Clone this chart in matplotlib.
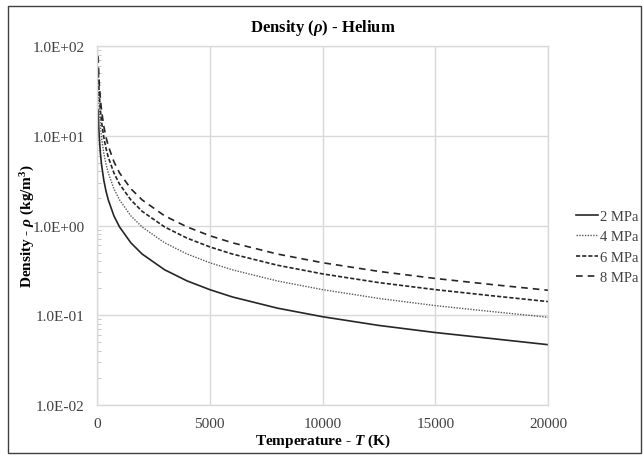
import matplotlib
matplotlib.use('Agg')
import matplotlib.pyplot as plt
import matplotlib.ticker as ticker
from matplotlib.patches import Rectangle

# Helium density (kg/m3) vs temperature (K)
temperature = [50, 75, 100, 150, 200, 300, 400, 500, 750, 1000, 1500, 2000,
               3000, 4000, 5000, 6000, 8000, 10000, 12500, 15000, 17500, 20000]
rho_2mpa = [19.3, 12.8, 9.63, 6.42, 4.81, 3.21, 2.41, 1.93, 1.28, 0.963, 0.642, 0.481,
            0.321, 0.241, 0.193, 0.160, 0.120, 0.0963, 0.0770, 0.0642, 0.0550, 0.0470]
rho_4mpa = [38.5, 25.7, 19.3, 12.8, 9.63, 6.42, 4.81, 3.85, 2.57, 1.93, 1.28, 0.963,
            0.642, 0.481, 0.385, 0.321, 0.241, 0.193, 0.154, 0.128, 0.110, 0.0950]
rho_6mpa = [57.8, 38.5, 28.9, 19.3, 14.4, 9.63, 7.22, 5.78, 3.85, 2.89, 1.93, 1.44,
            0.963, 0.722, 0.578, 0.481, 0.361, 0.289, 0.231, 0.193, 0.165, 0.142]
rho_8mpa = [77.0, 51.4, 38.5, 25.7, 19.3, 12.8, 9.63, 7.70, 5.14, 3.85, 2.57, 1.93,
            1.28, 0.963, 0.770, 0.642, 0.481, 0.385, 0.308, 0.257, 0.220, 0.190]
labels = ['2 MPa', '4 MPa', '6 MPa', '8 MPa']

plt.rcParams['font.family'] = ['Liberation Serif', 'DejaVu Serif']
plt.rcParams['mathtext.fontset'] = 'custom'
plt.rcParams['mathtext.rm'] = 'Liberation Serif:bold'
plt.rcParams['mathtext.it'] = 'Liberation Serif:italic:bold'
plt.rcParams['mathtext.bf'] = 'Liberation Serif:bold'

fig = plt.figure(figsize=(6.44, 4.60), dpi=100)
ax = fig.add_axes([97/644, 1 - 406/460, 451/644, 359/460])

# series styles
ax.plot(temperature, rho_2mpa, color='#262626', lw=1.2, linestyle='-', label=labels[0])
ax.plot(temperature, rho_4mpa, color='#595959', lw=1.0, linestyle=(0, (1, 1)), label=labels[1])
ax.plot(temperature, rho_6mpa, color='#262626', lw=1.2, linestyle=(0, (2.5, 1.2)), label=labels[2])
ax.plot(temperature, rho_8mpa, color='#262626', lw=1.2, linestyle=(0, (4, 3)), label=labels[3])

ax.set_yscale('log')
ax.set_xlim(0, 20000)
ax.set_ylim(0.01, 100)
ax.xaxis.set_major_locator(ticker.MultipleLocator(5000))
ax.yaxis.set_major_formatter(ticker.FuncFormatter(lambda v, p: '{:.1E}'.format(v)))
ax.yaxis.set_minor_locator(ticker.LogLocator(base=10, subs=range(2, 10), numticks=20))
ax.yaxis.set_minor_formatter(ticker.NullFormatter())

ax.grid(True, which='major', color='#d9d9d9', lw=1)
ax.set_axisbelow(True)
for s in ax.spines.values():
    s.set_color('#d9d9d9')
    s.set_linewidth(1)
ax.tick_params(axis='both', which='major', length=0, labelsize=11, colors='#404040')
ax.tick_params(axis='y', which='major', pad=9)
ax.tick_params(axis='x', which='major', pad=9)
ax.tick_params(axis='y', which='minor', direction='in', length=3, color='#bfbfbf')

ax.set_title(r'Density ($\it{\rho}$) - Helium', fontsize=12, fontweight='bold', pad=11)
ax.set_xlabel(r'Temperature - $\it{T}$ (K)', fontsize=11, fontweight='bold', labelpad=1)
ax.set_ylabel(r'Density - $\it{\rho}$ (kg/m$^{3}$)', fontsize=11, fontweight='bold', labelpad=-3)

fig.legend(loc='center left', bbox_to_anchor=(576/644, 1 - 248/460), frameon=False,
           fontsize=10.5, handlelength=1.5, handletextpad=0.15, labelspacing=0.5,
           borderpad=0, borderaxespad=0, labelcolor='#404040')

# outer chart border
fig.patches.append(Rectangle((8/644, 6/460), 633/644, 447/460, transform=fig.transFigure,
                             fill=False, edgecolor='#404040', lw=1))

fig.savefig('out.png', dpi=100)
